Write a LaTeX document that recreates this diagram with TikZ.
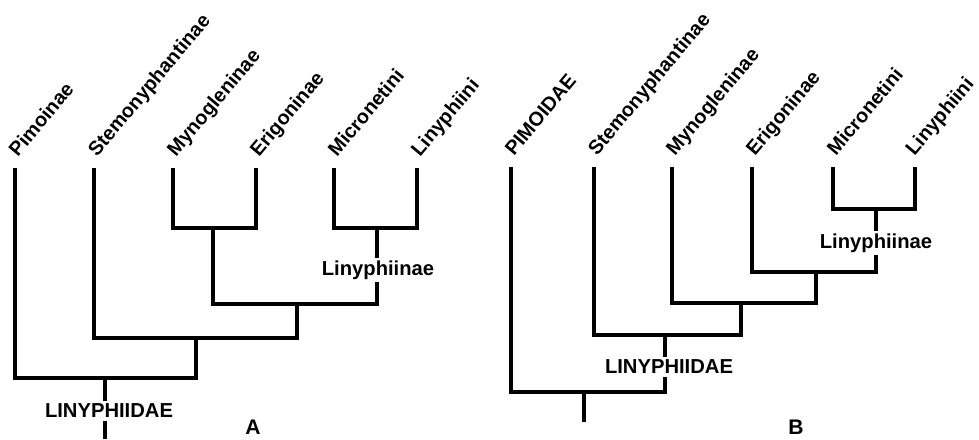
\documentclass[tikz,border=0pt]{standalone}
\usepackage{fontspec}
\setsansfont{Liberation Sans}
\usetikzlibrary{positioning}
\begin{document}
\begin{tikzpicture}[x=0.02cm,y=-0.02cm,line width=2.2pt,
  taxon/.style={anchor=base west,rotate=50,inner sep=0pt,font=\sffamily\bfseries\fontsize{11.3}{13}\selectfont},
  clade/.style={fill=white,inner sep=1.5pt,font=\sffamily\bfseries\fontsize{11.5}{13}\selectfont},
  panel/.style={font=\sffamily\bfseries\fontsize{12}{14}\selectfont}]
\useasboundingbox (0,0) rectangle (979,439);

% tree A
\coordinate (aPim) at (15,168);
\coordinate (aSte) at (94,168);
\coordinate (aMyn) at (173,168);
\coordinate (aEri) at (256,168);
\coordinate (aMic) at (334,168);
\coordinate (aLin) at (417,168);
\coordinate (aJ1) at (213,228);
\coordinate (aJ2) at (377,228);
\coordinate (aJ3) at (297,304);
\coordinate (aJ4) at (196,338);
\coordinate (aJ5) at (105,378);
\coordinate (aRoot) at (105,439);

\draw (aMyn) |- (aJ1) -| (aEri);
\draw (aMic) |- (aJ2) -| (aLin);
\draw (aJ1) |- (aJ3) -| (aJ2);
\draw (aSte) |- (aJ4) -| (aJ3);
\draw (aPim) |- (aJ5) -| (aJ4);
\draw (aJ5) -- (aRoot);

\node[taxon] (aPimL) at ([xshift=1]aPim|-0,159) {Pimoinae};
\node[taxon] (aSteL) at ([xshift=1]aSte|-0,159) {Stemonyphantinae};
\node[taxon] (aMynL) at ([xshift=1]aMyn|-0,159) {Mynogleninae};
\node[taxon] (aEriL) at ([xshift=1]aEri|-0,159) {Erigoninae};
\node[taxon] (aMicL) at ([xshift=1]aMic|-0,159) {Micronetini};
\node[taxon] (aLinL) at ([xshift=1]aLin|-0,159) {Linyphiini};
\node[clade] (aSub) at (378,270) {Linyphiinae};
\node[clade] (aFam) at (109,411) {LINYPHIIDAE};
\node[panel] (aTag) at (253,427) {A};

% tree B
\coordinate (bPim) at (511,167);
\coordinate (bSte) at (594,167);
\coordinate (bMyn) at (672,167);
\coordinate (bEri) at (752,167);
\coordinate (bMic) at (833,167);
\coordinate (bLin) at (915,167);
\coordinate (bJ1) at (876,209);
\coordinate (bJ2) at (816,272);
\coordinate (bJ3) at (741,303);
\coordinate (bJ4) at (665,335);
\coordinate (bJ5) at (584,392);
\coordinate (bRoot) at (584,422);

\draw (bMic) |- (bJ1) -| (bLin);
\draw (bEri) |- (bJ2) -| (bJ1);
\draw (bMyn) |- (bJ3) -| (bJ2);
\draw (bSte) |- (bJ4) -| (bJ3);
\draw (bPim) |- (bJ5) -| (bJ4);
\draw (bJ5) -- (bRoot);

\node[taxon] (bPimL) at ([xshift=1]bPim|-0,158) {PIMOIDAE};
\node[taxon] (bSteL) at ([xshift=1]bSte|-0,158) {Stemonyphantinae};
\node[taxon] (bMynL) at ([xshift=1]bMyn|-0,158) {Mynogleninae};
\node[taxon] (bEriL) at ([xshift=1]bEri|-0,158) {Erigoninae};
\node[taxon] (bMicL) at ([xshift=1]bMic|-0,158) {Micronetini};
\node[taxon] (bLinL) at ([xshift=-1]bLin|-0,158) {Linyphiini};
\node[clade] (bSub) at (876,243) {Linyphiinae};
\node[clade] (bFam) at (669,367) {LINYPHIIDAE};
\node[panel] (bTag) at (796,427) {B};
\end{tikzpicture}
\end{document}
